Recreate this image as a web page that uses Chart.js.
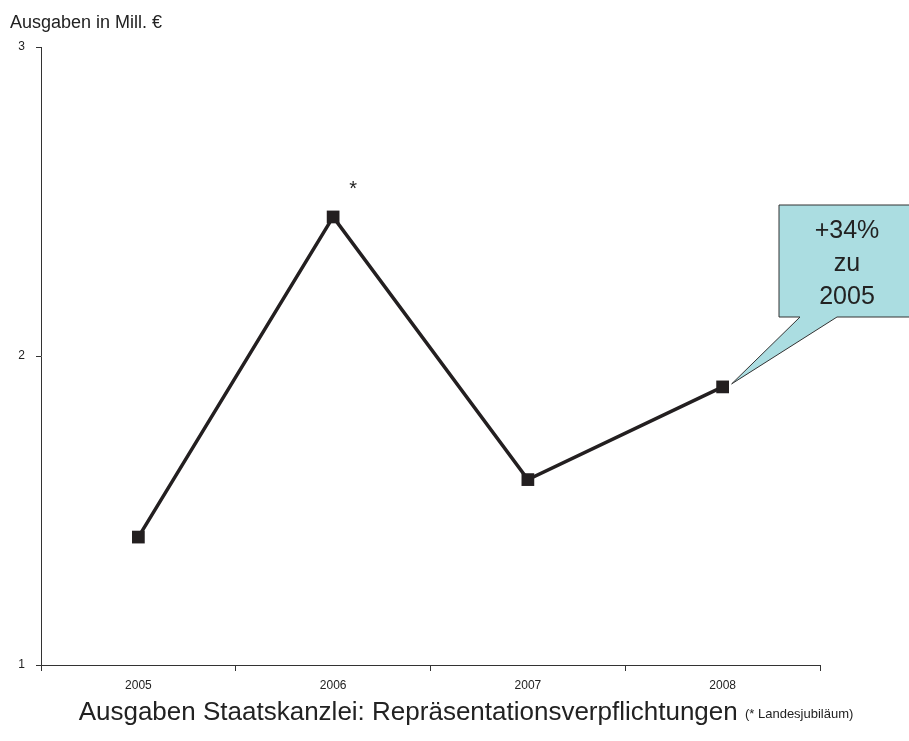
<!DOCTYPE html>
<html><head><meta charset="utf-8">
<script src="https://cdn.jsdelivr.net/npm/chart.js@4/dist/chart.umd.min.js"></script>
<style>html,body{margin:0;padding:0;background:#fff}#wrap{width:909px;height:741px;position:relative}</style>
</head><body><div id="wrap"><canvas id="c" width="909" height="741"></canvas></div>
<script>
const categories = ['2005', '2006', '2007', '2008'];
const values = [1.414, 2.45, 1.60, 1.90];
const yTicks = [1, 2, 3];
const yAxisTitle = 'Ausgaben in Mill. €';
const chartTitle = 'Ausgaben Staatskanzlei: Repräsentationsverpflichtungen';
const titleNote = '(* Landesjubiläum)';
const calloutLines = ['+34%', 'zu', '2005'];
const starIndex = 1;
const calloutIndex = 3;

const FONT = '"Liberation Sans", Arial, sans-serif';

const extras = {
  id: 'extras',
  afterDraw(chart) {
    const ctx = chart.ctx;
    const meta = chart.getDatasetMeta(0);
    ctx.save();
    // y axis title
    ctx.fillStyle = '#222';
    ctx.font = '18px ' + FONT;
    ctx.textAlign = 'left';
    ctx.textBaseline = 'middle';
    ctx.fillText(yAxisTitle, 10, 23);
    // star
    const sp = meta.data[starIndex];
    ctx.font = '20px ' + FONT;
    ctx.textAlign = 'center';
    ctx.fillText('*', sp.x + 20, sp.y - 27);
    // bottom title
    ctx.font = '26px ' + FONT;
    const w1 = ctx.measureText(chartTitle + ' ').width;
    ctx.font = '13px ' + FONT;
    const w2 = ctx.measureText(titleNote).width;
    const startX = 466 - (w1 + w2) / 2;
    ctx.textAlign = 'left';
    ctx.textBaseline = 'alphabetic';
    ctx.font = '26px ' + FONT;
    ctx.fillStyle = '#222';
    ctx.fillText(chartTitle, startX, 720);
    ctx.font = '13px ' + FONT;
    ctx.fillText(titleNote, startX + w1, 718);
    // callout
    const cp = meta.data[calloutIndex];
    const bx = 779, by = 205, bw = 140, bh = 112;
    ctx.beginPath();
    ctx.moveTo(bx, by);
    ctx.lineTo(bx + bw, by);
    ctx.lineTo(bx + bw, by + bh);
    ctx.lineTo(837, by + bh);
    ctx.lineTo(cp.x + 9, cp.y - 3);
    ctx.lineTo(800, by + bh);
    ctx.lineTo(bx, by + bh);
    ctx.closePath();
    ctx.fillStyle = '#ABDDE1';
    ctx.fill();
    ctx.strokeStyle = '#333';
    ctx.lineWidth = 1;
    ctx.stroke();
    ctx.fillStyle = '#222';
    ctx.font = '25px ' + FONT;
    ctx.textAlign = 'center';
    ctx.textBaseline = 'middle';
    calloutLines.forEach((t, i) => ctx.fillText(t, 847, 231 + i * 33));
    ctx.restore();
  }
};

new Chart(document.getElementById('c'), {
  type: 'line',
  data: {
    labels: categories,
    datasets: [{
      data: values,
      borderColor: '#231F20',
      backgroundColor: '#231F20',
      borderWidth: 3.5,
      tension: 0,
      pointStyle: 'rect',
      pointRadius: 9,
      pointHoverRadius: 9,
      pointBorderWidth: 0
    }]
  },
  plugins: [extras],
  options: {
    responsive: false,
    animation: false,
    events: [],
    layout: { padding: { left: 0, top: 47, right: 89, bottom: 0 } },
    plugins: { legend: { display: false }, tooltip: { enabled: false }, title: { display: false } },
    scales: {
      x: {
        offset: true,
        grid: { offset: true, drawOnChartArea: false, drawTicks: true, tickLength: 6, color: '#333', lineWidth: 1 },
        border: { display: true, color: '#333', width: 1 },
        ticks: { color: '#222', font: { family: FONT, size: 12 }, padding: 7, maxRotation: 0 },
        afterFit(s) { s.height = 76; }
      },
      y: {
        min: 1, max: 3,
        afterBuildTicks(s) { s.ticks = yTicks.map(v => ({ value: v })); },
        grid: { drawOnChartArea: false, drawTicks: true, tickLength: 5, color: '#333' },
        border: { display: true, color: '#333', width: 1 },
        ticks: { color: '#222', font: { family: FONT, size: 12 }, padding: 11 },
        afterFit(s) { s.width = 41; }
      }
    }
  }
});
</script>
</body></html>
